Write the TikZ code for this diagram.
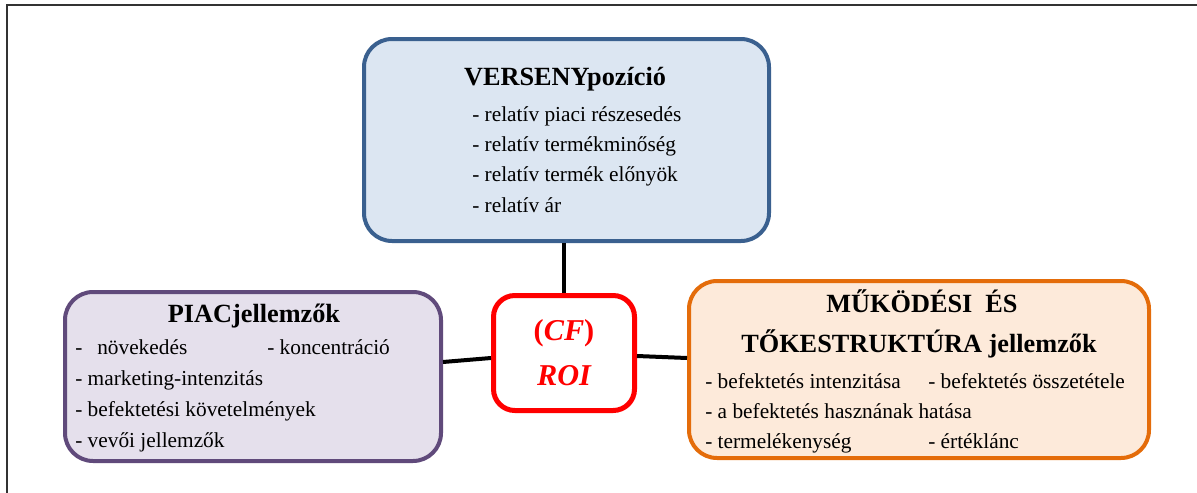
\documentclass[tikz,border=0pt]{standalone}
\usepackage{fontspec}
\setmainfont{Liberation Serif}
\usetikzlibrary{fit}
\definecolor{vpborder}{RGB}{58,96,143}
\definecolor{vpfill}{RGB}{220,230,242}
\definecolor{pjborder}{RGB}{96,74,123}
\definecolor{pjfill}{RGB}{229,224,236}
\definecolor{mkborder}{RGB}{228,108,10}
\definecolor{mkfill}{RGB}{253,234,218}
\definecolor{roired}{RGB}{255,0,0}
\definecolor{framegray}{RGB}{50,50,50}
\begin{document}
\begin{tikzpicture}[x=0.75pt,y=-0.75pt,
  box/.style={draw, line width=3pt, rounded corners=21pt, inner sep=0pt},
  heading/.style={anchor=base, font=\bfseries\fontsize{19.7}{22}\selectfont},
  item/.style={anchor=base west, inner sep=0pt, font=\fontsize{16}{19}\selectfont},
  link/.style={draw=black, line width=3pt}]
\useasboundingbox (0,0) rectangle (1197,493);

% page frame
\draw[framegray, line width=1.5pt] (7,493) -- (7,5) -- (1197,5);

% boxes
\node[box, draw=vpborder, fill=vpfill, fit={(364,39) (769,241)}] (vp) {};
\node[box, draw=pjborder, fill=pjfill, fit={(65,292) (441,461)}] (pj) {};
\node[box, draw=mkborder, fill=mkfill, fit={(689,281) (1149,458)}] (mk) {};
\node[box, draw=roired, fill=white, line width=3.75pt, rounded corners=16pt,
      fit={(493.5,295.5) (634.5,410.5)}] (roi) {};

% connectors
\draw[link] (roi.north) -- (roi.north |- vp.south);
\draw[link] (pj.east |- 0,362) -- (roi.west |- 0,358);
\draw[link] (roi.east |- 0,356) -- (mk.west |- 0,358);

% centre box text
\node[anchor=base, text=roired, font=\bfseries\fontsize{22.7}{26}\selectfont]
  (cf) at (564,340) {(\textit{CF})};
\node[anchor=base, text=roired, font=\bfseries\itshape\fontsize{22.7}{26}\selectfont]
  (roitxt) at (564,385) {ROI};

% competitive position
\node[heading] (vph) at (565,85) {VERSENYpozíció};
\node[item] (vp1) at (472,121) {- relatív piaci részesedés};
\node[item] (vp2) at (472,151) {- relatív termékminőség};
\node[item] (vp3) at (472,181) {- relatív termék előnyök};
\node[item] (vp4) at (472,212) {- relatív ár};

% market characteristics
\node[heading] (pjh) at (254,322) {PIACjellemzők};
\node[item] (pj1a) at (75,354) {-};
\node[item] (pj1b) at (97,354) {növekedés};
\node[item] (pj1c) at (267,354) {- koncentráció};
\node[item] (pj2) at (75,385) {- marketing-intenzitás};
\node[item] (pj3) at (75,416) {- befektetési követelmények};
\node[item] (pj4) at (75,447) {- vevői jellemzők};

% operating and capital structure
\node[heading] (mkh1) at (922,312) {MŰKÖDÉSI\ \ ÉS};
\node[heading] (mkh2) at (919,352) {TŐKESTRUKTÚRA jellemzők};
\node[item] (mk1a) at (705,388) {- befektetés intenzitása};
\node[item] (mk1b) at (928,388) {- befektetés összetétele};
\node[item] (mk2) at (705,418) {- a befektetés hasznának hatása};
\node[item] (mk3a) at (705,448) {- termelékenység};
\node[item] (mk3b) at (928,448) {- értéklánc};
\end{tikzpicture}
\end{document}
